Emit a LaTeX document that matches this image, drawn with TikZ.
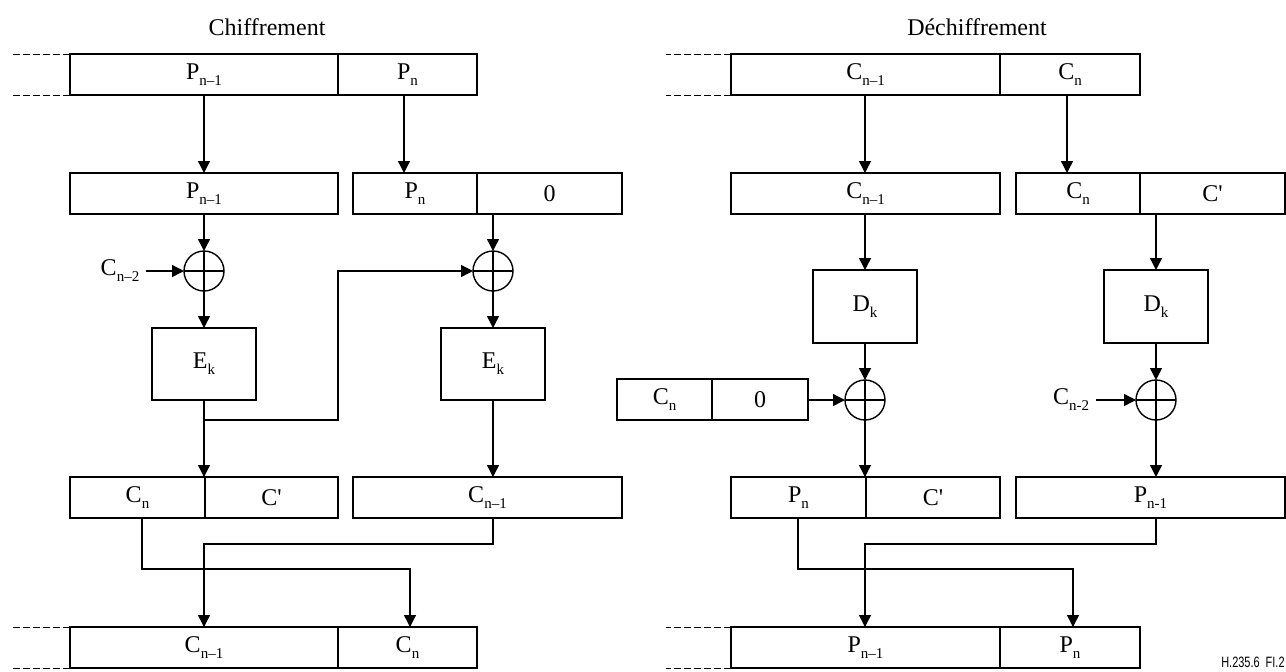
\documentclass[tikz,border=0pt]{standalone}
\usepackage{fontspec}
\setmainfont{Liberation Serif}
\newfontfamily\labelfont{Liberation Sans}
\usetikzlibrary{arrows.meta,positioning}
\newcommand{\ix}[2]{#1\raisebox{-.55ex}{\fontsize{7.5}{8}\selectfont #2}}
\newcommand{\prm}{C\textquotesingle}

\begin{document}
\begin{tikzpicture}[x=0.5pt,y=-0.5pt,
    font=\fontsize{12}{14}\selectfont,
    cell/.style={draw,line width=0.7pt,minimum height=20.5pt,inner sep=0pt,outer sep=0pt},
    fbox/.style={cell,minimum width=52pt,minimum height=36pt},
    xor/.style={draw,circle,line width=0.7pt,minimum size=20pt,inner sep=0pt,outer sep=0pt,
      path picture={\draw[line width=0.7pt]
        (path picture bounding box.north) -- (path picture bounding box.south)
        (path picture bounding box.west) -- (path picture bounding box.east);}},
    arr/.style={-{Triangle[length=6pt,width=6pt]},line width=0.7pt},
    cont/.style={dash pattern=on 3.5pt off 1.5pt,line width=0.5pt}]
  \useasboundingbox (0,0) rectangle (1286,671);

  % titles
  \node (tenc) at (267,27) {Chiffrement};
  \node (tdec) at (977,27) {Déchiffrement};

  % Chiffrement
  \node[cell,minimum width=134pt] (ep1) at (204,74.5) {\ix{P}{n--1}};
  \node[cell,minimum width=69.5pt,right=0pt of ep1] (ep2) {\ix{P}{n}};
  \draw[cont] (ep1.north west) -- ++(-58,0);
  \draw[cont] (ep1.south west) -- ++(-58,0);

  \node[cell,minimum width=134pt] (eq1) at (204,193.5) {\ix{P}{n--1}};
  \node[cell,minimum width=62pt] (eq2) at (415,193.5) {\ix{P}{n}};
  \node[cell,minimum width=72.5pt,right=0pt of eq2] (eq3) {0};
  \draw[arr] (ep1) -- (eq1);
  \draw[arr] ([xshift=-1.75pt]ep2.south) -- ([xshift=-1.75pt]ep2.south |- eq2.north);

  \node[xor] (ex1) at (204,271) {};
  \node[xor] (ex2) at (493,271) {};
  \node (ecm) at (120,271) {\ix{C}{n--2}};
  \draw[arr] (eq1) -- (ex1);
  \draw[arr] (ecm) -- (ex1);
  \draw[arr] (ex2 |- eq3.south) -- (ex2);

  \node[fbox] (ek1) at (204,364) {\ix{E}{k}};
  \node[fbox] (ek2) at (493,364) {\ix{E}{k}};
  \draw[arr] (ex1) -- (ek1);
  \draw[arr] (ex2) -- (ek2);

  \node[cell,minimum width=67.5pt] (er1) at (137.5,497.5) {\ix{C}{n}};
  \node[cell,minimum width=66.5pt,right=0pt of er1] (er2) {\prm};
  \node[cell,minimum width=134.5pt] (er3) at (487.5,497.5) {\ix{C}{n--1}};
  \coordinate (ebend) at (338,420);
  \draw[arr] (ek1) -- (ek1 |- er1.north);
  \draw[arr] (ek1 |- ebend) -- (ebend) |- (ex2);
  \draw[arr] (ek2) -- (ek2 |- er3.north);

  \node[cell,minimum width=134pt] (es1) at (204,647.5) {\ix{C}{n--1}};
  \node[cell,minimum width=69.5pt,right=0pt of es1] (es2) {\ix{C}{n}};
  \draw[cont] (es1.north west) -- ++(-58,0);
  \draw[cont] (es1.south west) -- ++(-58,0);
  \coordinate (eca) at (410,569);
  \coordinate (ecb) at (204,544);
  \draw[arr] ([xshift=2.25pt]er1.south) |- (eca) -- (eca |- es2.north);
  \draw[arr] (er3.south -| ek2) |- (ecb) -- (ecb |- es1.north);

  % Dechiffrement
  \node[cell,minimum width=134.5pt] (dp1) at (865.5,74.5) {\ix{C}{n--1}};
  \node[cell,minimum width=70pt,right=0pt of dp1] (dp2) {\ix{C}{n}};
  \draw[cont] (dp1.north west) -- ++(-65,0);
  \draw[cont] (dp1.south west) -- ++(-65,0);

  \node[cell,minimum width=134.5pt] (dq1) at (865.5,193.5) {\ix{C}{n--1}};
  \node[cell,minimum width=62pt] (dq2) at (1078,193.5) {\ix{C}{n}};
  \node[cell,minimum width=72.5pt,right=0pt of dq2] (dq3) {\prm};

  \node[fbox,minimum height=36.5pt] (dk1) at (865,306.5) {\ix{D}{k}};
  \node[fbox,minimum height=36.5pt] (dk2) at (1156,306.5) {\ix{D}{k}};
  \draw[arr] (dk1 |- dp1.south) -- (dk1 |- dq1.north);
  \draw[arr] ([xshift=-1.5pt]dp2.south) -- ([xshift=-1.5pt]dp2.south |- dq2.north);
  \draw[arr] (dk1 |- dq1.south) -- (dk1);
  \draw[arr] (dk2 |- dq3.south) -- (dk2);

  \node[xor] (dx1) at (865,400) {};
  \node[xor] (dx2) at (1156,400) {};
  \node[cell,minimum width=47.5pt] (dz1) at (664.5,399.5) {\ix{C}{n}};
  \node[cell,minimum width=48pt,right=0pt of dz1] (dz2) {0};
  \node (dcm) at (1071,400) {\ix{C}{n-2}};
  \draw[arr] (dk1) -- (dx1);
  \draw[arr] (dk2) -- (dx2);
  \draw[arr] (dz2.east |- dx1) -- (dx1);
  \draw[arr] (dcm) -- (dx2);

  \node[cell,minimum width=67.5pt] (dr1) at (798.5,497.5) {\ix{P}{n}};
  \node[cell,minimum width=67pt,right=0pt of dr1] (dr2) {\prm};
  \node[cell,minimum width=134.5pt] (dr3) at (1150.5,497.5) {\ix{P}{n-1}};
  \draw[arr] (dx1) -- (dx1 |- dr1.north);
  \draw[arr] (dx2) -- (dx2 |- dr3.north);

  \node[cell,minimum width=134.5pt] (ds1) at (865.5,647.5) {\ix{P}{n--1}};
  \node[cell,minimum width=70pt,right=0pt of ds1] (ds2) {\ix{P}{n}};
  \draw[cont] (ds1.north west) -- ++(-65,0);
  \draw[cont] (ds1.south west) -- ++(-65,0);
  \coordinate (dca) at (1073,569);
  \coordinate (dcb) at (865,544);
  \draw[arr] ([xshift=-0.25pt]dr1.south) |- (dca) -- (dca |- ds2.north);
  \draw[arr] (dr3.south -| dx2) |- (dcb) -- (dcb |- ds1.north);

  \node[font=\labelfont\fontsize{7.5}{9}\selectfont,anchor=base east,inner sep=0pt] (fig) at (1285,667)
    {\scalebox{0.73}[1]{H.235.6\ \ FI.2}};
\end{tikzpicture}
\end{document}
